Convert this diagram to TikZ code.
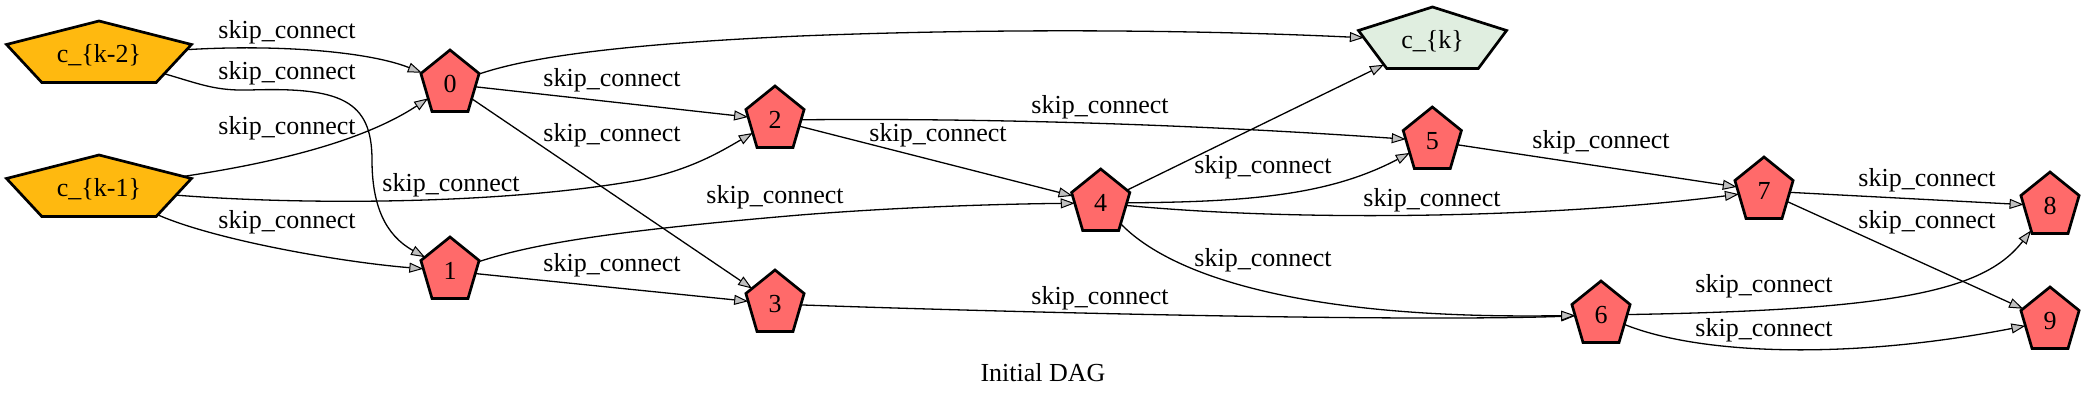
\documentclass[tikz,border=0pt]{standalone}
\usepackage{fontspec}
\setmainfont{Liberation Serif}
\usetikzlibrary{shapes.geometric,arrows.meta}
\definecolor{cin}{HTML}{FFB90F}
\definecolor{cmid}{HTML}{FF6A6A}
\definecolor{cout}{HTML}{E0EEE0}
\definecolor{tipgray}{HTML}{C0C0C0}
\tikzset{
  pent/.style={regular polygon, regular polygon sides=5, minimum size=34pt,
    inner sep=0pt, outer sep=0pt, draw=black, line width=1.35pt, transform shape},
  lab/.style={inner sep=0pt},
  conn/.style={draw=black, line width=0.65pt,
    -{Triangle[length=7pt,width=5pt,fill=tipgray,line width=0.5pt]}},
  every node/.style={font=\fontsize{13pt}{15.6pt}\selectfont}
}
% name, x, y, xscale, inverse xscale, fill, text
\newcommand\pentnode[7]{%
  \begin{scope}[shift={(#2,#3)}]
    \node[pent, fill=#6, xscale=#4] (#1) at (0,0) {\scalebox{#5}[1]{#7}};
  \end{scope}}
\begin{document}
\begin{tikzpicture}[x=0.5pt,y=-0.5pt]
\useasboundingbox (0,0) rectangle (2086,401);
% nodes
\pentnode{ck2}{99}{55}{2.86}{0.3497}{cin}{c\_\{k-2\}}
\pentnode{ck1}{99}{189}{2.86}{0.3497}{cin}{c\_\{k-1\}}
\pentnode{ck}{1432.5}{41}{2.29}{0.4367}{cout}{c\_\{k\}}
\pentnode{n0}{450}{84}{0.9}{1.111}{cmid}{0}
\pentnode{n1}{450}{271}{0.9}{1.111}{cmid}{1}
\pentnode{n2}{775}{120}{0.9}{1.111}{cmid}{2}
\pentnode{n3}{775}{304}{0.9}{1.111}{cmid}{3}
\pentnode{n4}{1100.7}{203}{0.9}{1.111}{cmid}{4}
\pentnode{n5}{1432.3}{141}{0.9}{1.111}{cmid}{5}
\pentnode{n6}{1601}{315}{0.9}{1.111}{cmid}{6}
\pentnode{n7}{1764}{191}{0.9}{1.111}{cmid}{7}
\pentnode{n8}{2050}{206}{0.9}{1.111}{cmid}{8}
\pentnode{n9}{2050}{321}{0.9}{1.111}{cmid}{9}
% edges
\draw[conn] (ck2) .. controls (280,44) and (370,52) .. (n0);
\draw[conn] (ck2) .. controls (200,84) and (215,91) .. (250,90)
  .. controls (340,87) and (372,100) .. (372,160)
  .. controls (372,205) and (385,235) .. (n1);
\draw[conn] (ck1) .. controls (280,162) and (365,140) .. (n0);
\draw[conn] (ck1) .. controls (300,205) and (500,205) .. (640,180)
  .. controls (690,170) and (720,152) .. (n2);
\draw[conn] (ck1) .. controls (215,240) and (340,262) .. (n1);
\draw[conn] (n0) -- (n2);
\draw[conn] (n0) -- (n3);
\draw[conn] (n0) .. controls (520,60) and (600,45) .. (800,36)
  .. controls (1000,28) and (1200,30) .. (ck);
\draw[conn] (n1) .. controls (530,245) and (600,232) .. (800,215)
  .. controls (900,207) and (1000,204) .. (n4);
\draw[conn] (n1) -- (n3);
\draw[conn] (n2) .. controls (1000,118) and (1200,125) .. (n5);
\draw[conn] (n2) -- (n4);
\draw[conn] (n3) .. controls (1000,312) and (1400,322) .. (n6);
\draw[conn] (n4) -- (ck);
\draw[conn] (n4) .. controls (1250,202) and (1330,195) .. (n5);
\draw[conn] (n4) .. controls (1300,222) and (1550,218) .. (n7);
\draw[conn] (n4) .. controls (1170,275) and (1300,320) .. (n6);
\draw[conn] (n5) -- (n7);
\draw[conn] (n7) -- (n8);
\draw[conn] (n7) -- (n9);
\draw[conn] (n6) .. controls (1900,310) and (1985,290) .. (n8);
\draw[conn] (n6) .. controls (1700,355) and (1850,360) .. (n9);
% labels
\node[lab] (l1) at (287,32.5) {skip\_connect};
\node[lab] (l2) at (287,73) {skip\_connect};
\node[lab] (l3) at (287,128) {skip\_connect};
\node[lab] (l4) at (451,185) {skip\_connect};
\node[lab] (l5) at (287,222) {skip\_connect};
\node[lab] (l6) at (612,80) {skip\_connect};
\node[lab] (l7) at (612,135) {skip\_connect};
\node[lab] (l10) at (612,265) {skip\_connect};
\node[lab] (l9) at (775,197) {skip\_connect};
\node[lab] (l12) at (938,135) {skip\_connect};
\node[lab] (l11) at (1100,107) {skip\_connect};
\node[lab] (l13) at (1100,298) {skip\_connect};
\node[lab] (l15) at (1263,167) {skip\_connect};
\node[lab] (l16) at (1432,200) {skip\_connect};
\node[lab] (l17) at (1263,260) {skip\_connect};
\node[lab] (l18) at (1601,142) {skip\_connect};
\node[lab] (l19) at (1927,180) {skip\_connect};
\node[lab] (l20) at (1927,222) {skip\_connect};
\node[lab] (l21) at (1764,286) {skip\_connect};
\node[lab] (l22) at (1764,330) {skip\_connect};
\node[lab] (title) at (1043,372.5) {Initial DAG};
\end{tikzpicture}
\end{document}
